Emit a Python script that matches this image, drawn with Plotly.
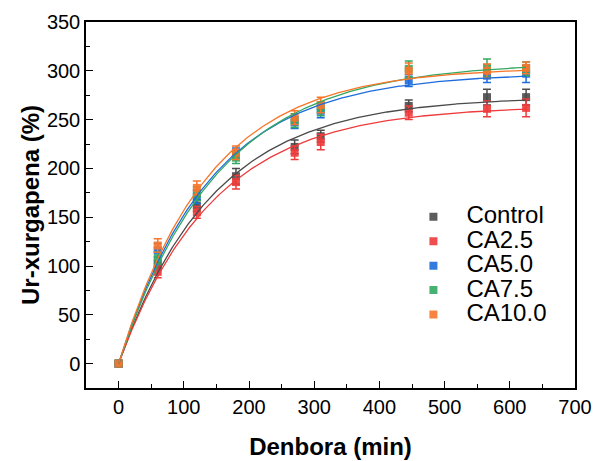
import numpy as np
import plotly.graph_objects as go

time_min = [0, 60, 120, 180, 270, 310, 445, 565, 625]

series_names = ["Control", "CA2.5", "CA5.0", "CA7.5", "CA10.0"]
control = [0, 101, 162, 192, 222, 233, 264, 273, 273]
ca25 = [0, 94, 155, 186, 216, 227, 257, 261, 262]
ca50 = [0, 116, 171, 215, 247, 259, 290, 295, 297]
ca75 = [0, 108, 174, 211, 249, 261, 302, 303, 302]
ca100 = [0, 121, 180, 216, 252, 265, 300, 300, 303]

err_control = [0, 5, 6, 8, 7, 6, 6, 8, 8]
err_ca25 = [0, 6, 6, 7, 7, 8, 7, 8, 9]
err_ca50 = [0, 7, 7, 6, 6, 7, 6, 7, 9]
err_ca75 = [0, 6, 7, 6, 7, 7, 8, 9, 7]
err_ca100 = [0, 7, 7, 7, 7, 8, 8, 7, 6]

colors = ["#4a4a4a", "#ee3b3b", "#1d6cdb", "#33a862", "#f7762b"]

values = [control, ca25, ca50, ca75, ca100]
errors = [err_control, err_ca25, err_ca50, err_ca75, err_ca100]


def fit_curve(x, y):
    """Least-squares fit of y = A*(1-exp(-k x))."""
    x = np.asarray(x, float)
    y = np.asarray(y, float)
    best = None
    for k in np.linspace(0.0005, 0.05, 4000):
        f = 1 - np.exp(-k * x)
        A = (y * f).sum() / (f * f).sum()
        sse = ((y - A * f) ** 2).sum()
        if best is None or sse < best[0]:
            best = (sse, A, k)
    return best[1], best[2]


fig = go.Figure()
xs = np.linspace(0, max(time_min), 300)

for name, y, e, c in zip(series_names, values, errors, colors):
    fig.add_trace(go.Scatter(
        x=time_min, y=y, mode="markers",
        name='<span style="font-size:24px">' + name + '</span>',
        marker=dict(symbol="square", size=8, color=c, opacity=0.9, line=dict(width=0)),
        error_y=dict(type="data", array=e, visible=True, color=c, thickness=1.5, width=4),
    ))

for name, y, c in zip(series_names, values, colors):
    A, k = fit_curve(time_min, y)
    fig.add_trace(go.Scatter(
        x=xs, y=A * (1 - np.exp(-k * xs)), mode="lines", showlegend=False,
        line=dict(color=c, width=1.3), hoverinfo="skip",
    ))

font_family = "Arial, Liberation Sans, sans-serif"

fig.update_layout(
    width=595, height=461,
    margin=dict(l=86, r=20, t=22, b=73),
    paper_bgcolor="white", plot_bgcolor="white",
    font=dict(family=font_family, color="black", size=20),
    showlegend=True,
    legend=dict(
        x=0.643, y=0.515, xanchor="left", yanchor="top",
        font=dict(size=16.5, family=font_family, color="black"),
        bgcolor="rgba(0,0,0,0)", borderwidth=0, itemwidth=56,
    ),
    xaxis=dict(
        range=[-50, 700], tickmode="array",
        tickvals=[0, 100, 200, 300, 400, 500, 600, 700],
        ticks="inside", ticklen=7, tickwidth=1.2, tickcolor="black",
        minor=dict(ticks="inside", ticklen=4, tickwidth=1.2, tickcolor="black", dtick=50, tick0=0),
        showline=True, linecolor="black", linewidth=1.5, mirror=True,
        showgrid=False, zeroline=False, automargin=False,
        tickfont=dict(size=20, family=font_family, color="black"),
        title=dict(text="<b>Denbora (min)</b>", font=dict(size=24, family=font_family, color="black"), standoff=21),
    ),
    yaxis=dict(
        range=[-25, 350], tickmode="array",
        tickvals=[0, 50, 100, 150, 200, 250, 300, 350],
        ticks="inside", ticklen=7, tickwidth=1.2, tickcolor="black",
        minor=dict(ticks="inside", ticklen=4, tickwidth=1.2, tickcolor="black", dtick=25, tick0=0),
        showline=True, linecolor="black", linewidth=1.5, mirror=True,
        showgrid=False, zeroline=False, automargin=False,
        tickfont=dict(size=20, family=font_family, color="black"),
        title=dict(text="<b>Ur-xurgapena (%)</b>", font=dict(size=24, family=font_family, color="black"), standoff=0),
    ),
)

fig.write_html("out.html")
